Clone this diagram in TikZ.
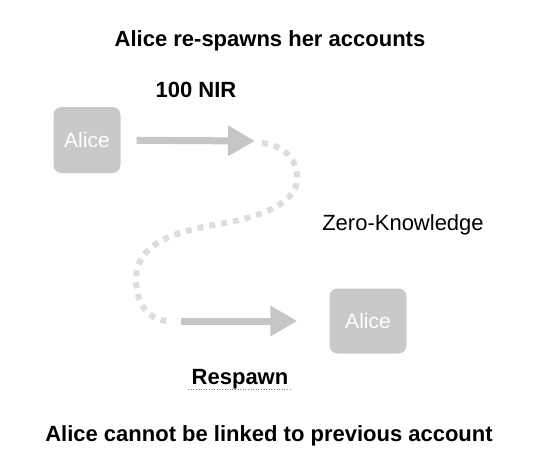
\documentclass[tikz,border=0pt]{standalone}
\usepackage{fontspec}
\setmainfont{Liberation Sans}
\usetikzlibrary{arrows.meta}
\definecolor{boxgray}{HTML}{C9C9C9}
\definecolor{arrowgray}{HTML}{C6C6C6}
\definecolor{dotgray}{HTML}{DDDDDD}
\tikzset{
  account/.style={fill=boxgray,rounded corners=8pt,text=white,inner sep=0pt},
  bigarrow/.style={draw=arrowgray,line width=7pt,-{Triangle[length=27pt,width=29pt]}},
  zkpath/.style={draw=dotgray,line width=6pt,dash pattern=on 6pt off 6pt},
  label/.style={anchor=base,font=\fontsize{22}{26}\selectfont},
  boldlabel/.style={label,font=\fontsize{22}{26}\selectfont\bfseries}
}
\begin{document}
\begin{tikzpicture}[x=1pt,y=-1pt]
  \useasboundingbox (0,0) rectangle (546,466);
  \node[boldlabel] (title) at (270,46) {Alice re-spawns her accounts};
  \node[boldlabel] (amount) at (196,97) {100 NIR};
  \node[account,minimum width=67pt,minimum height=66pt,font=\fontsize{21}{25}\selectfont] (alice1) at (87,140) {Alice};
  \node[account,minimum width=77pt,minimum height=65pt,font=\fontsize{21}{25}\selectfont] (alice2) at (368,321) {Alice};
  \node[label] (zk) at (403,230) {Zero-Knowledge};
  \node[boldlabel] (respawn) at (240,384) {Respawn};
  \node[boldlabel] (note) at (269,441) {Alice cannot be linked to previous account};
  \coordinate (tip1) at (255,141);
  \coordinate (zkA) at (262,143);
  \coordinate (zkB) at (167,321);
  \coordinate (start2) at (181,321);
  % transfer, then the hidden path, then the new account
  \draw[bigarrow,shorten <=16pt] (alice1) -- (tip1);
  \draw[zkpath] (zkA) .. controls (285,146) and (298,160) .. (297,180)
    .. controls (296,205) and (255,218) .. (220,224)
    .. controls (170,232) and (136,245) .. (136,280)
    .. controls (136,305) and (150,320) .. (zkB);
  \draw[bigarrow,shorten >=32pt] (start2) -- (alice2);
  \draw[gray,line width=0.6pt,dotted] ([yshift=-5pt]respawn.base west) -- ([yshift=-5pt]respawn.base east);
\end{tikzpicture}
\end{document}
